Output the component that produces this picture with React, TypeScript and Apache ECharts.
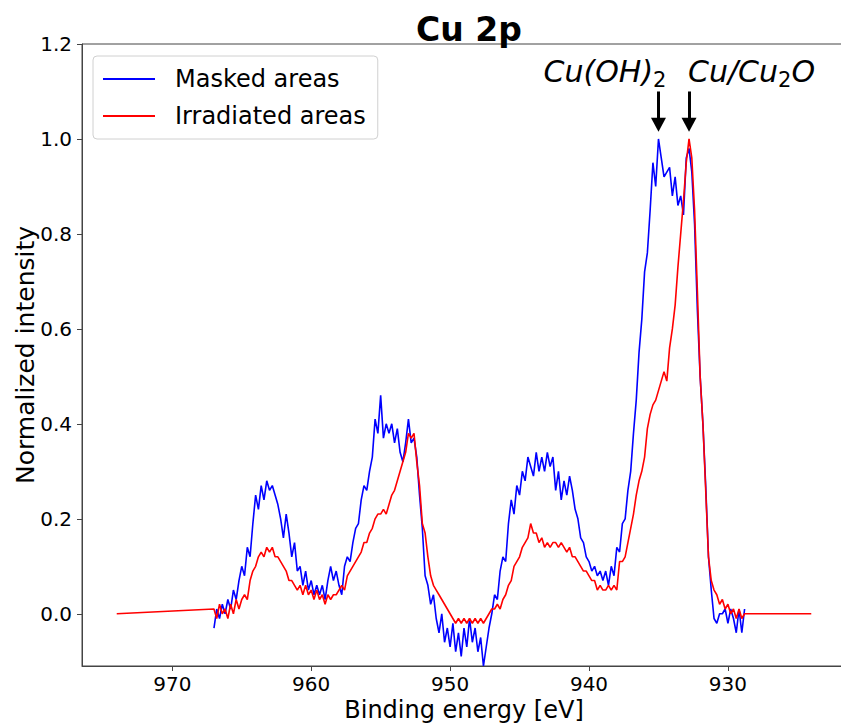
import React, { useEffect, useRef } from "react";
import * as echarts from "echarts";

// Binding energy grid: 967.0 eV down to 928.8 eV in 0.2 eV steps
const E_START = 967.0;
const E_STEP = 0.2;

const MASKED: number[] = [
  -0.03, 0.01, -0.01, 0.02, 0.0, 0.03, 0.01, 0.05, 0.03, 0.07,
  0.1, 0.08, 0.14, 0.12, 0.19, 0.25, 0.22, 0.27, 0.24, 0.28,
  0.26, 0.27, 0.25, 0.23, 0.2, 0.16, 0.21, 0.17, 0.12, 0.15,
  0.09, 0.1, 0.06, 0.09, 0.05, 0.07, 0.04, 0.06, 0.04, 0.06,
  0.03, 0.07, 0.1, 0.07, 0.09, 0.06, 0.04, 0.1, 0.12, 0.11,
  0.15, 0.18, 0.19, 0.24, 0.27, 0.26, 0.3, 0.33, 0.41, 0.38,
  0.46, 0.37, 0.4, 0.38, 0.4, 0.36, 0.39, 0.34, 0.32, 0.36,
  0.41, 0.36, 0.37, 0.33, 0.25, 0.18, 0.08, 0.06, 0.02, 0.04,
  -0.01, -0.04, 0.0, -0.06, -0.03, -0.07, -0.02, -0.08, -0.04, -0.09,
  -0.03, -0.07, -0.01, -0.06, -0.03, -0.08, -0.05, -0.11, -0.07, -0.03,
  0.0, 0.04, 0.03, 0.09, 0.12, 0.11, 0.19, 0.24, 0.21, 0.27,
  0.25, 0.3, 0.28, 0.33, 0.31, 0.29, 0.34, 0.3, 0.33, 0.3,
  0.34, 0.31, 0.33, 0.26, 0.3, 0.24, 0.28, 0.25, 0.29, 0.26,
  0.22, 0.2, 0.16, 0.15, 0.12, 0.11, 0.09, 0.1, 0.08, 0.09,
  0.07, 0.09, 0.06, 0.1, 0.08, 0.14, 0.13, 0.19, 0.2, 0.26,
  0.3, 0.38, 0.45, 0.55, 0.62, 0.72, 0.76, 0.85, 0.95, 0.9,
  1.0, 0.96, 0.92, 0.93, 0.94, 0.88, 0.92, 0.86, 0.88, 0.84,
  0.96, 0.98, 0.93, 0.82, 0.64, 0.5, 0.4, 0.27, 0.12, 0.05,
  -0.01, -0.02, 0.0, 0.0, 0.01, -0.02, 0.01, -0.01, -0.04, 0.01, -0.04, 0.01,
];

const IRRADIATED: number[] = [
  0.01, -0.01, 0.02, 0.0, 0.01, -0.01, 0.02, 0.0, 0.03, 0.01,
  0.03, 0.04, 0.03, 0.07, 0.09, 0.1, 0.12, 0.13, 0.12, 0.14,
  0.13, 0.14, 0.12, 0.12, 0.11, 0.1, 0.09, 0.07, 0.07, 0.06,
  0.05, 0.06, 0.04, 0.06, 0.04, 0.05, 0.03, 0.05, 0.03, 0.04,
  0.02, 0.04, 0.03, 0.04, 0.04, 0.05, 0.06, 0.05, 0.08, 0.09,
  0.1, 0.11, 0.12, 0.13, 0.15, 0.15, 0.17, 0.18, 0.2, 0.21,
  0.21, 0.22, 0.21, 0.23, 0.25, 0.26, 0.28, 0.3, 0.32, 0.34,
  0.38, 0.37, 0.38, 0.32, 0.27, 0.19, 0.17, 0.12, 0.08, 0.06,
  0.05, 0.04, 0.03, 0.02, 0.01, 0.0, -0.01, -0.02, -0.01, -0.02,
  -0.01, -0.02, -0.01, -0.02, -0.01, -0.02, -0.01, -0.02, -0.01, 0.0,
  0.01, 0.01, 0.02, 0.01, 0.03, 0.04, 0.06, 0.07, 0.1, 0.11,
  0.12, 0.14, 0.15, 0.16, 0.19, 0.17, 0.17, 0.15, 0.16, 0.14,
  0.15, 0.14, 0.15, 0.15, 0.14, 0.15, 0.14, 0.13, 0.14, 0.12,
  0.12, 0.11, 0.1, 0.09, 0.09, 0.08, 0.07, 0.07, 0.05, 0.06,
  0.05, 0.05, 0.06, 0.05, 0.06, 0.05, 0.11, 0.11, 0.12, 0.15,
  0.18, 0.21, 0.25, 0.28, 0.3, 0.33, 0.39, 0.42, 0.44, 0.45,
  0.47, 0.49, 0.51, 0.49, 0.56, 0.6, 0.65, 0.73, 0.8, 0.87,
  0.95, 1.0, 0.96, 0.85, 0.68, 0.5, 0.4, 0.26, 0.12, 0.07,
  0.05, 0.04, 0.02, 0.03, 0.01, 0.02, 0.0, 0.01, -0.01, 0.01, -0.01, 0.0,
];

// flat zero baseline of the irradiated trace outside the measured window
const IRR_BASELINE_LEFT: [number, number][] = [[974.0, 0.0]];
const IRR_BASELINE_RIGHT: [number, number][] = [[924.0, 0.0]];

const X_TICKS = [970, 960, 950, 940, 930];
const Y_TICKS = [0.0, 0.2, 0.4, 0.6, 0.8, 1.0, 1.2];

const ARROWS = [
  { x: 935.0, from: 1.1, to: 1.03 },
  { x: 932.8, from: 1.1, to: 1.03 },
];
const ANNOTATIONS = [
  { name: "Cu(OH)2", rich: "{n|Cu(OH)}{s|2}", x: 938.85, y: 1.143 },
  { name: "Cu/Cu2O", rich: "{n|Cu/Cu}{s|2}{n|O}", x: 928.3, y: 1.143 },
];

const FONT = "DejaVu Sans";

export default function App() {
  const ref = useRef<HTMLDivElement>(null);
  useEffect(() => {
    if (!ref.current) return;
    const chart = echarts.init(ref.current, undefined, { renderer: "svg" });
    const energy = (i: number) => +(E_START - i * E_STEP).toFixed(1);
    const masked = MASKED.map((v, i) => [energy(i), v]);
    const irr = [
      ...IRR_BASELINE_LEFT,
      ...IRRADIATED.map((v, i) => [energy(i), v]),
      ...IRR_BASELINE_RIGHT,
    ];
    chart.setOption({
      animation: false,
      title: {
        text: "Cu 2p",
        left: 464,
        textAlign: "center",
        top: 8,
        textStyle: { fontSize: 33, fontWeight: "bold", color: "#000", fontFamily: FONT },
      },
      legend: {
        left: 93,
        top: 56,
        orient: "vertical",
        icon: "rect",
        itemWidth: 52,
        itemHeight: 2,
        itemGap: 11,
        padding: [10, 12, 10, 10],
        backgroundColor: "rgba(255,255,255,0.8)",
        borderColor: "#d0d0d0",
        borderWidth: 1,
        borderRadius: 4,
        textStyle: { fontSize: 24, lineHeight: 26, color: "#000", fontFamily: FONT, padding: [0, 0, 0, 15] },
        data: ["Masked areas", "Irradiated areas"],
      },
      grid: { left: 82, top: 44, width: 764, height: 622, show: true, borderColor: "#444", borderWidth: 1, outerBoundsMode: "none" },
      xAxis: {
        type: "value",
        min: 921.5,
        max: 976.5,
        inverse: true,
        name: "Binding energy [eV]",
        nameLocation: "middle",
        nameGap: 32,
        nameMoveOverlap: false,
        nameTextStyle: { fontSize: 24, lineHeight: 24, color: "#000", fontFamily: FONT },
        axisLine: { show: true, onZero: false, lineStyle: { color: "#444", width: 1 } },
        axisTick: { show: true, length: 5, customValues: X_TICKS, lineStyle: { color: "#444" } },
        axisLabel: { customValues: X_TICKS, fontSize: 20, lineHeight: 20, color: "#000", margin: 8, fontFamily: FONT },
        splitLine: { show: false },
      },
      yAxis: {
        type: "value",
        min: -0.11,
        max: 1.2,
        name: "Normalized intensity",
        nameLocation: "middle",
        nameGap: 44,
        nameMoveOverlap: false,
        nameTextStyle: { fontSize: 25, lineHeight: 25, color: "#000", fontFamily: FONT },
        axisLine: { show: true, onZero: false, lineStyle: { color: "#444", width: 1 } },
        axisTick: { show: true, length: 5, customValues: Y_TICKS, lineStyle: { color: "#444" } },
        axisLabel: {
          customValues: Y_TICKS,
          fontSize: 20,
          color: "#000",
          margin: 10,
          fontFamily: FONT,
          formatter: (v: number) => v.toFixed(1),
        },
        splitLine: { show: false },
      },
      series: [
        {
          name: "Masked areas",
          type: "line",
          data: masked,
          showSymbol: false,
          color: "#0000ff",
          lineStyle: { color: "#0000ff", width: 1.6 },
          markPoint: {
            silent: true,
            symbol: "circle",
            symbolSize: 0,
            itemStyle: { color: "transparent" },
            label: {
              show: true,
              position: "inside",
              color: "#000",
              rich: {
                n: { fontSize: 30, fontStyle: "italic", fontFamily: FONT, color: "#000", lineHeight: 38, verticalAlign: "middle" },
                s: { fontSize: 21, fontFamily: FONT, color: "#000", lineHeight: 38, verticalAlign: "bottom" },
              },
            },
            data: ANNOTATIONS.map((a) => ({
              name: a.name,
              coord: [a.x, a.y],
              label: { formatter: a.rich },
            })),
          },
        },
        {
          name: "Irradiated areas",
          type: "line",
          data: irr,
          showSymbol: false,
          color: "#ff0000",
          lineStyle: { color: "#ff0000", width: 1.6 },
          markLine: {
            silent: true,
            symbol: ["none", "triangle"],
            symbolSize: [15, 14],
            lineStyle: { color: "#000", width: 3, type: "solid" },
            label: { show: false },
            emphasis: { disabled: true },
            data: ARROWS.map((a) => [{ coord: [a.x, a.from] }, { coord: [a.x, a.to] }]),
          },
        },
      ],
    });
    return () => chart.dispose();
  }, []);
  return (
    <div
      ref={ref}
      style={{ position: "fixed", left: 0, top: 0, width: 841, height: 724, background: "#fff" }}
    />
  );
}
